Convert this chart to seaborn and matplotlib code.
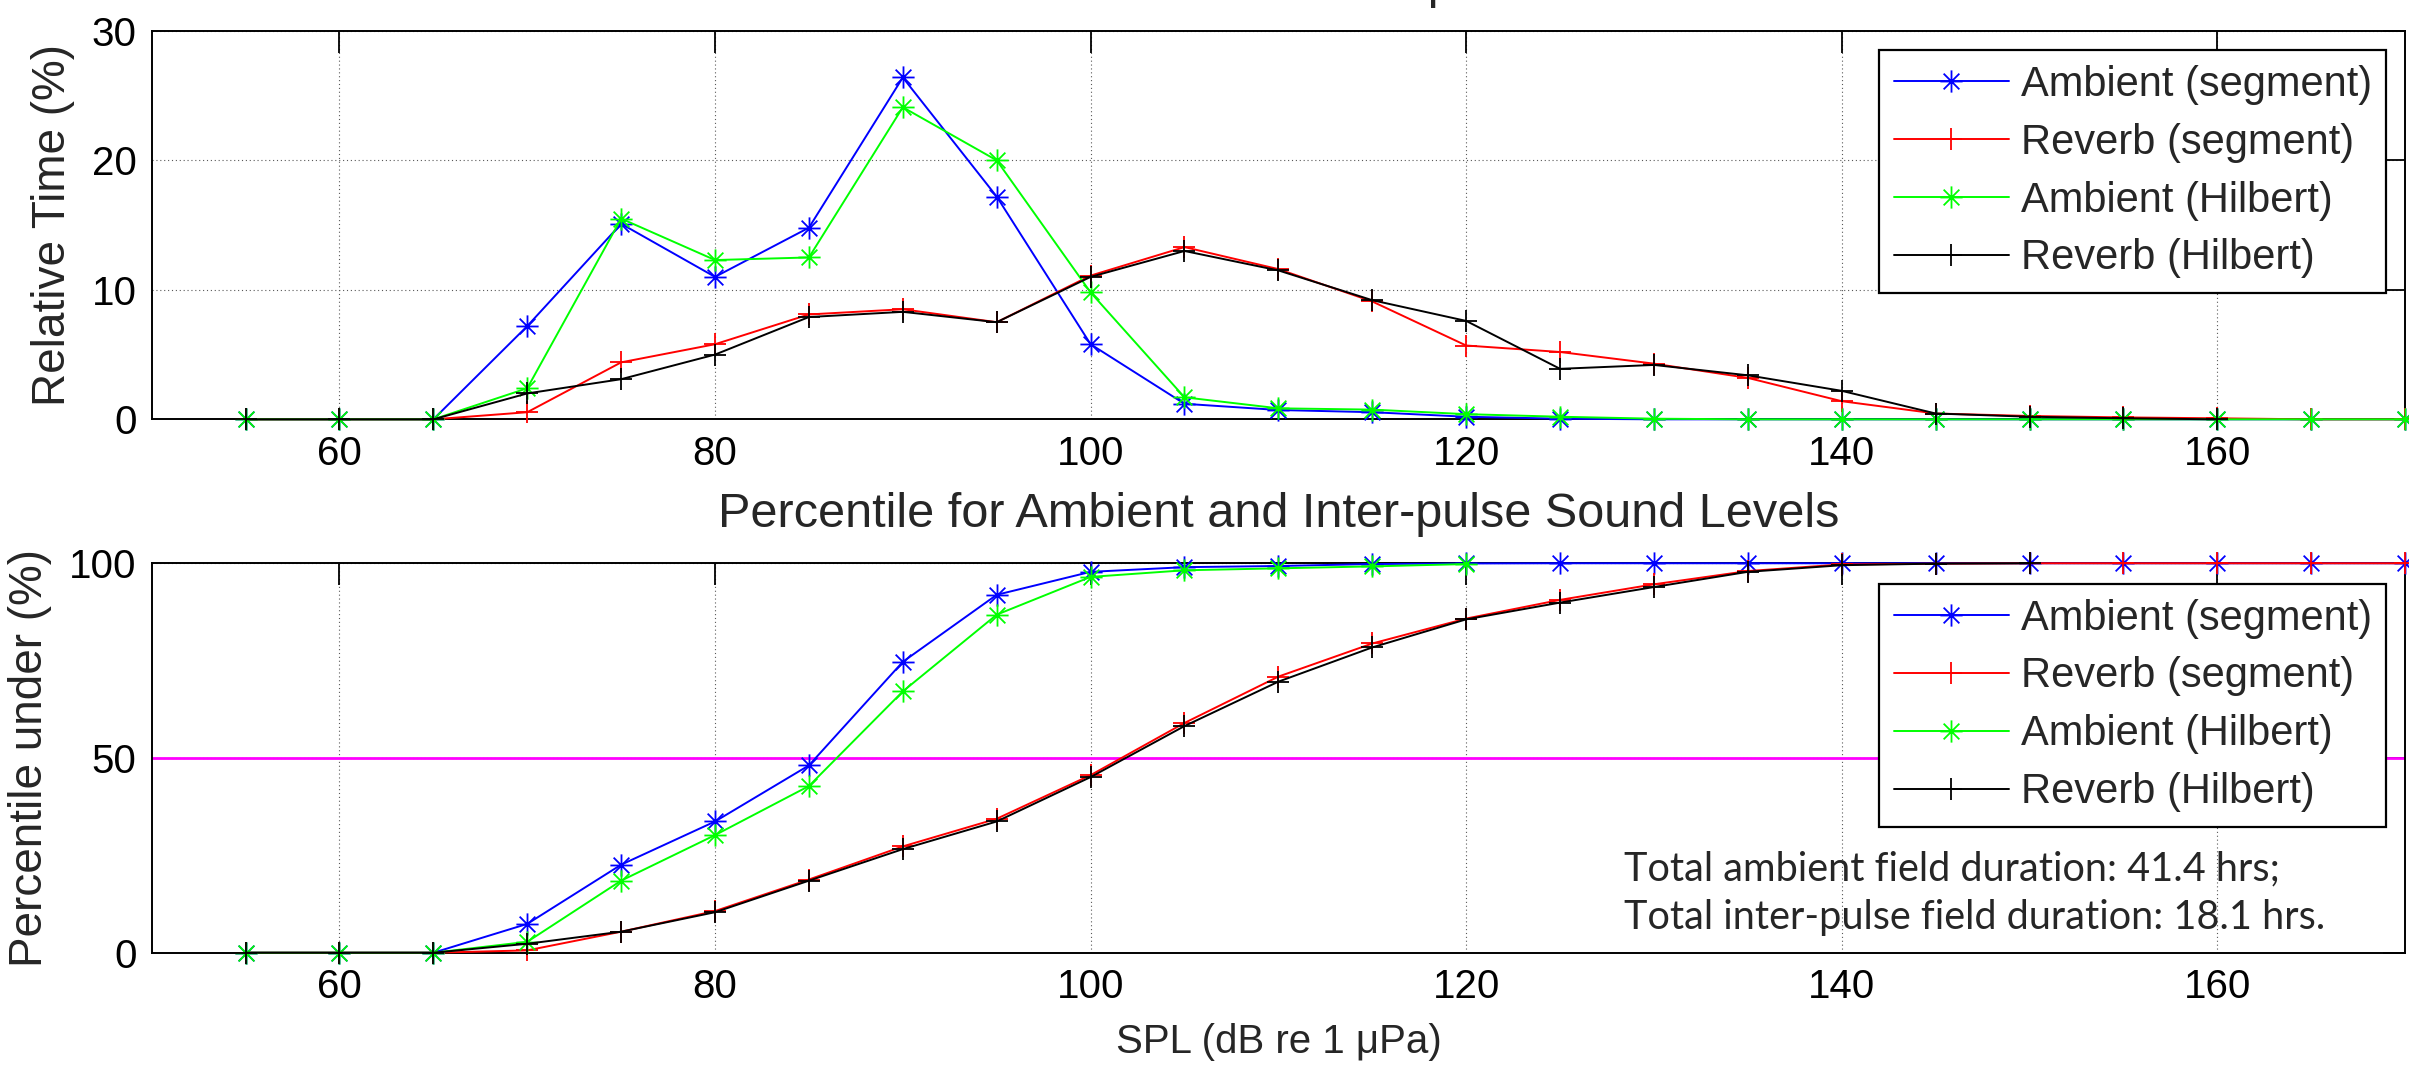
import numpy as np
import matplotlib
matplotlib.use("Agg")
import matplotlib.pyplot as plt
from matplotlib.path import Path
import seaborn as sns

# SPL bin centres (dB re 1 uPa)
spl = [55, 60, 65, 70, 75, 80, 85, 90, 95, 100, 105, 110,
       115, 120, 125, 130, 135, 140, 145, 150, 155, 160, 165, 170]
nan = np.nan

# Relative time spent in each SPL bin (%)
hist_ambient_segment = [0, 0, 0, 7.2, 15.1, 11.0, 14.8, 26.4, 17.2, 5.8, 1.2, 0.72,
                        0.55, 0.2, 0.05, 0, 0, 0, 0, 0, 0, 0, 0, 0]
hist_reverb_segment = [0, 0, 0, 0.55, 4.4, 5.8, 8.1, 8.5, 7.5, 11.1, 13.3, 11.6,
                       9.1, 5.7, 5.2, 4.3, 3.2, 1.4, 0.45, 0.26, 0.15, 0.08, 0, 0]
hist_ambient_hilbert = [0, 0, 0, 2.4, 15.5, 12.3, 12.5, 24.1, 20.0, 9.8, 1.7, 0.85,
                        0.75, 0.4, 0.2, 0.05, 0, 0, 0, 0, 0, 0, 0, 0]
hist_reverb_hilbert = [0, 0, 0, 2.0, 3.1, 5.0, 7.9, 8.3, 7.5, 11.0, 13.0, 11.5,
                       9.2, 7.6, 3.9, 4.2, 3.4, 2.2, 0.45, 0.2, 0.08, 0, nan, nan]

# Cumulative percentage of time below each SPL (%)
cdf_ambient_segment = [0, 0, 0, 7.4, 22.6, 33.7, 48.1, 74.7, 91.9, 97.8, 99.0, 99.3,
                       99.8, 99.95, 100, 100, 100, 100, 100, 100, 100, 100, 100, 100]
cdf_reverb_segment = [0, 0, 0, 0.6, 5.4, 10.7, 18.8, 27.3, 34.4, 45.6, 59.0, 70.9,
                      79.4, 85.8, 90.6, 94.6, 98.0, 99.7, 99.9, 100, 100, 100, 100, 100]
cdf_ambient_hilbert = [0, 0, 0, 2.8, 18.5, 30.2, 42.8, 67.1, 86.8, 96.5, 98.2, 98.7,
                       99.2, 99.8, nan, nan, nan, nan, nan, nan, nan, nan, nan, nan]
cdf_reverb_hilbert = [0, 0, 0, 2.3, 5.4, 10.4, 18.5, 26.6, 33.7, 45.1, 58.2, 69.6,
                      78.4, 85.6, 89.9, 93.9, 97.8, 99.5, 99.9, 100, nan, nan, nan, nan]

labels = ["Ambient (segment)", "Reverb (segment)", "Ambient (Hilbert)", "Reverb (Hilbert)"]
colors = ["#0000ff", "#ff0000", "#00ff00", "#000000"]

sns.set_style("white")
plt.rcParams["font.family"] = ["Liberation Sans", "DejaVu Sans"]
plt.rcParams["axes.edgecolor"] = "black"

# asterisk marker: a plus with a cross laid over it
d = np.sqrt(0.5)
asterisk = Path([(-1, 0), (1, 0), (0, -1), (0, 1), (-d, -d), (d, d), (-d, d), (d, -d)],
                [Path.MOVETO, Path.LINETO] * 4)
markers = [asterisk, "+", asterisk, "+"]

fig = plt.figure(figsize=(24.09, 10.67), dpi=100)
ax1 = fig.add_axes([0.06297, 0.6070, 0.9354, 0.3641])
ax2 = fig.add_axes([0.06297, 0.1071, 0.9354, 0.3650])

TICK_FS = 29
LABEL_FS = 33


def draw_series(ax, series):
    for vals, lab, col, mk in zip(series, labels, colors, markers):
        sns.lineplot(x=spl, y=vals, ax=ax, color=col, marker=mk, markersize=16,
                     markeredgewidth=1.3, markeredgecolor=col, markerfacecolor="none",
                     linewidth=1.4, label=lab, clip_on=False, zorder=3,
                     estimator=None, sort=False, legend=False)


def style_axes(ax, yticks):
    ax.set_xlim(50, 170)
    ax.set_ylim(yticks[0], yticks[-1])
    ax.set_xticks([60, 80, 100, 120, 140, 160])
    ax.set_yticks(yticks)
    ax.grid(True, linestyle=(0, (1, 2.5)), color="0.35", linewidth=0.8)
    ax.set_axisbelow(True)
    ax.tick_params(direction="in", length=15.8, width=1.3, top=True, right=True,
                   labelsize=TICK_FS, pad=11, colors="black")
    for sp in ax.spines.values():
        sp.set_visible(True)
        sp.set_linewidth(1.4)
        sp.set_color("black")


def add_legend(ax, anchor_y):
    leg = ax.legend(loc="upper right", bbox_to_anchor=(0.9917, anchor_y),
                    borderaxespad=0, fontsize=30, frameon=True, fancybox=False,
                    edgecolor="black", framealpha=1, borderpad=0.35,
                    labelspacing=0.43, handlelength=2.75, handletextpad=0.29)
    leg.get_frame().set_linewidth(1.6)
    leg.set_zorder(10)


# Histogram of time per SPL bin
draw_series(ax1, [hist_ambient_segment, hist_reverb_segment,
                  hist_ambient_hilbert, hist_reverb_hilbert])
style_axes(ax1, [0, 10, 20, 30])
ax1.set_ylabel("Relative Time (%)", fontsize=LABEL_FS, labelpad=12)
ax1.set_xlabel("")
ax1.set_title("Distribution for Ambient and Inter-pulse Sound Levels", fontsize=35, pad=23.5)
add_legend(ax1, 0.9503)

# Cumulative distribution
ax2.axhline(50, color="#ff00ff", linewidth=2.0, zorder=2)
draw_series(ax2, [cdf_ambient_segment, cdf_reverb_segment,
                  cdf_ambient_hilbert, cdf_reverb_hilbert])
style_axes(ax2, [0, 50, 100])
ax2.set_ylabel("Percentile under (%)", fontsize=LABEL_FS, labelpad=12)
ax2.set_xlabel("SPL (dB re 1 \u03bcPa)", fontsize=TICK_FS, labelpad=12)
ax2.set_title("Percentile for Ambient and Inter-pulse Sound Levels", fontsize=35, pad=26)
add_legend(ax2, 0.9468)

note_font = ["Lato", "DejaVu Sans"]
ax2.text(0.6535, 0.1867, "Total ambient field duration: 41.4 hrs;", transform=ax2.transAxes,
         fontsize=28.5, family=note_font, ha="left", va="baseline", zorder=11)
ax2.text(0.6535, 0.0609, "Total inter-pulse field duration: 18.1 hrs.", transform=ax2.transAxes,
         fontsize=28.5, family=note_font, ha="left", va="baseline", zorder=11)

fig.savefig("out.png", dpi=100, facecolor="white")
